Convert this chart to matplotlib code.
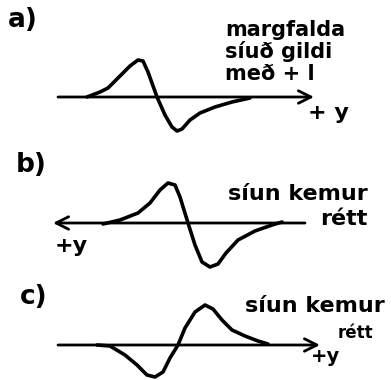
import matplotlib

matplotlib.use('Agg')
import matplotlib.pyplot as plt

W, H = 391, 380

# Signal traces (pixel coordinates, y grows downward)
curve_a_x = [87, 100, 108, 118, 130, 138, 143, 148, 157, 165, 172, 177, 182, 190, 200, 215, 232, 250]
curve_a_y = [97, 92, 88, 78, 66, 60, 61, 72, 97, 115, 127, 131, 129, 120, 113, 107, 102, 98]

curve_b_x = [103, 120, 138, 150, 160, 168, 175, 180, 188, 195, 202, 210, 218, 226, 238, 255, 272, 282]
curve_b_y = [224, 220, 213, 203, 190, 183, 185, 197, 223, 245, 262, 267, 264, 253, 240, 231, 225, 222]

curve_c_x = [97, 110, 125, 137, 147, 155, 163, 170, 178, 185, 195, 205, 213, 222, 232, 245, 258, 268]
curve_c_y = [345, 346, 355, 365, 375, 377, 372, 358, 345, 328, 312, 305, 309, 320, 330, 336, 341, 344]

# Baselines: (tail x, head x, y)
axis_a = (58, 314, 97)
axis_b = (305, 53, 223)
axis_c = (58, 320, 345)

panel_labels = ['a)', 'b)', 'c)']
panel_label_pos = [(8, 20), (16, 165), (20, 297)]

# (text, x, y, size)
notes = [
    ('margfalda', 225, 30, 15), ('síuð gildi', 225, 52, 15), ('með + l', 225, 74, 15),
    ('síun kemur', 228, 194, 16), ('rétt', 320, 219, 16),
    ('síun kemur', 245, 306, 16), ('rétt', 338, 333, 12),
]
plus_y = [('+ y', 308, 113, 16), ('+y', 55, 246, 16), ('+y', 311, 357, 14)]

fig = plt.figure(figsize=(W / 100, H / 100), dpi=100)
ax = fig.add_axes([0, 0, 1, 1])
ax.set_xlim(0, W)
ax.set_ylim(H, 0)
ax.axis('off')

for (x0, x1, y) in (axis_a, axis_b, axis_c):
    ax.annotate('', xy=(x1, y), xytext=(x0, y),
                arrowprops=dict(arrowstyle='->,head_length=0.9,head_width=0.45',
                                lw=2.0, color='black', shrinkA=0, shrinkB=0))

for cx, cy in ((curve_a_x, curve_a_y), (curve_b_x, curve_b_y), (curve_c_x, curve_c_y)):
    ax.plot(cx, cy, color='black', lw=2.6, solid_joinstyle='round', solid_capstyle='round')

for label, (x, y) in zip(panel_labels, panel_label_pos):
    ax.text(x, y, label, fontsize=19, fontweight='bold', va='center', ha='left')

for txt, x, y, size in notes:
    ax.text(x, y, txt, fontsize=size, fontweight='bold', va='center', ha='left')

for txt, x, y, size in plus_y:
    ax.text(x, y, txt, fontsize=size, fontweight='bold', va='center', ha='left')

fig.savefig('out.png', dpi=100)
